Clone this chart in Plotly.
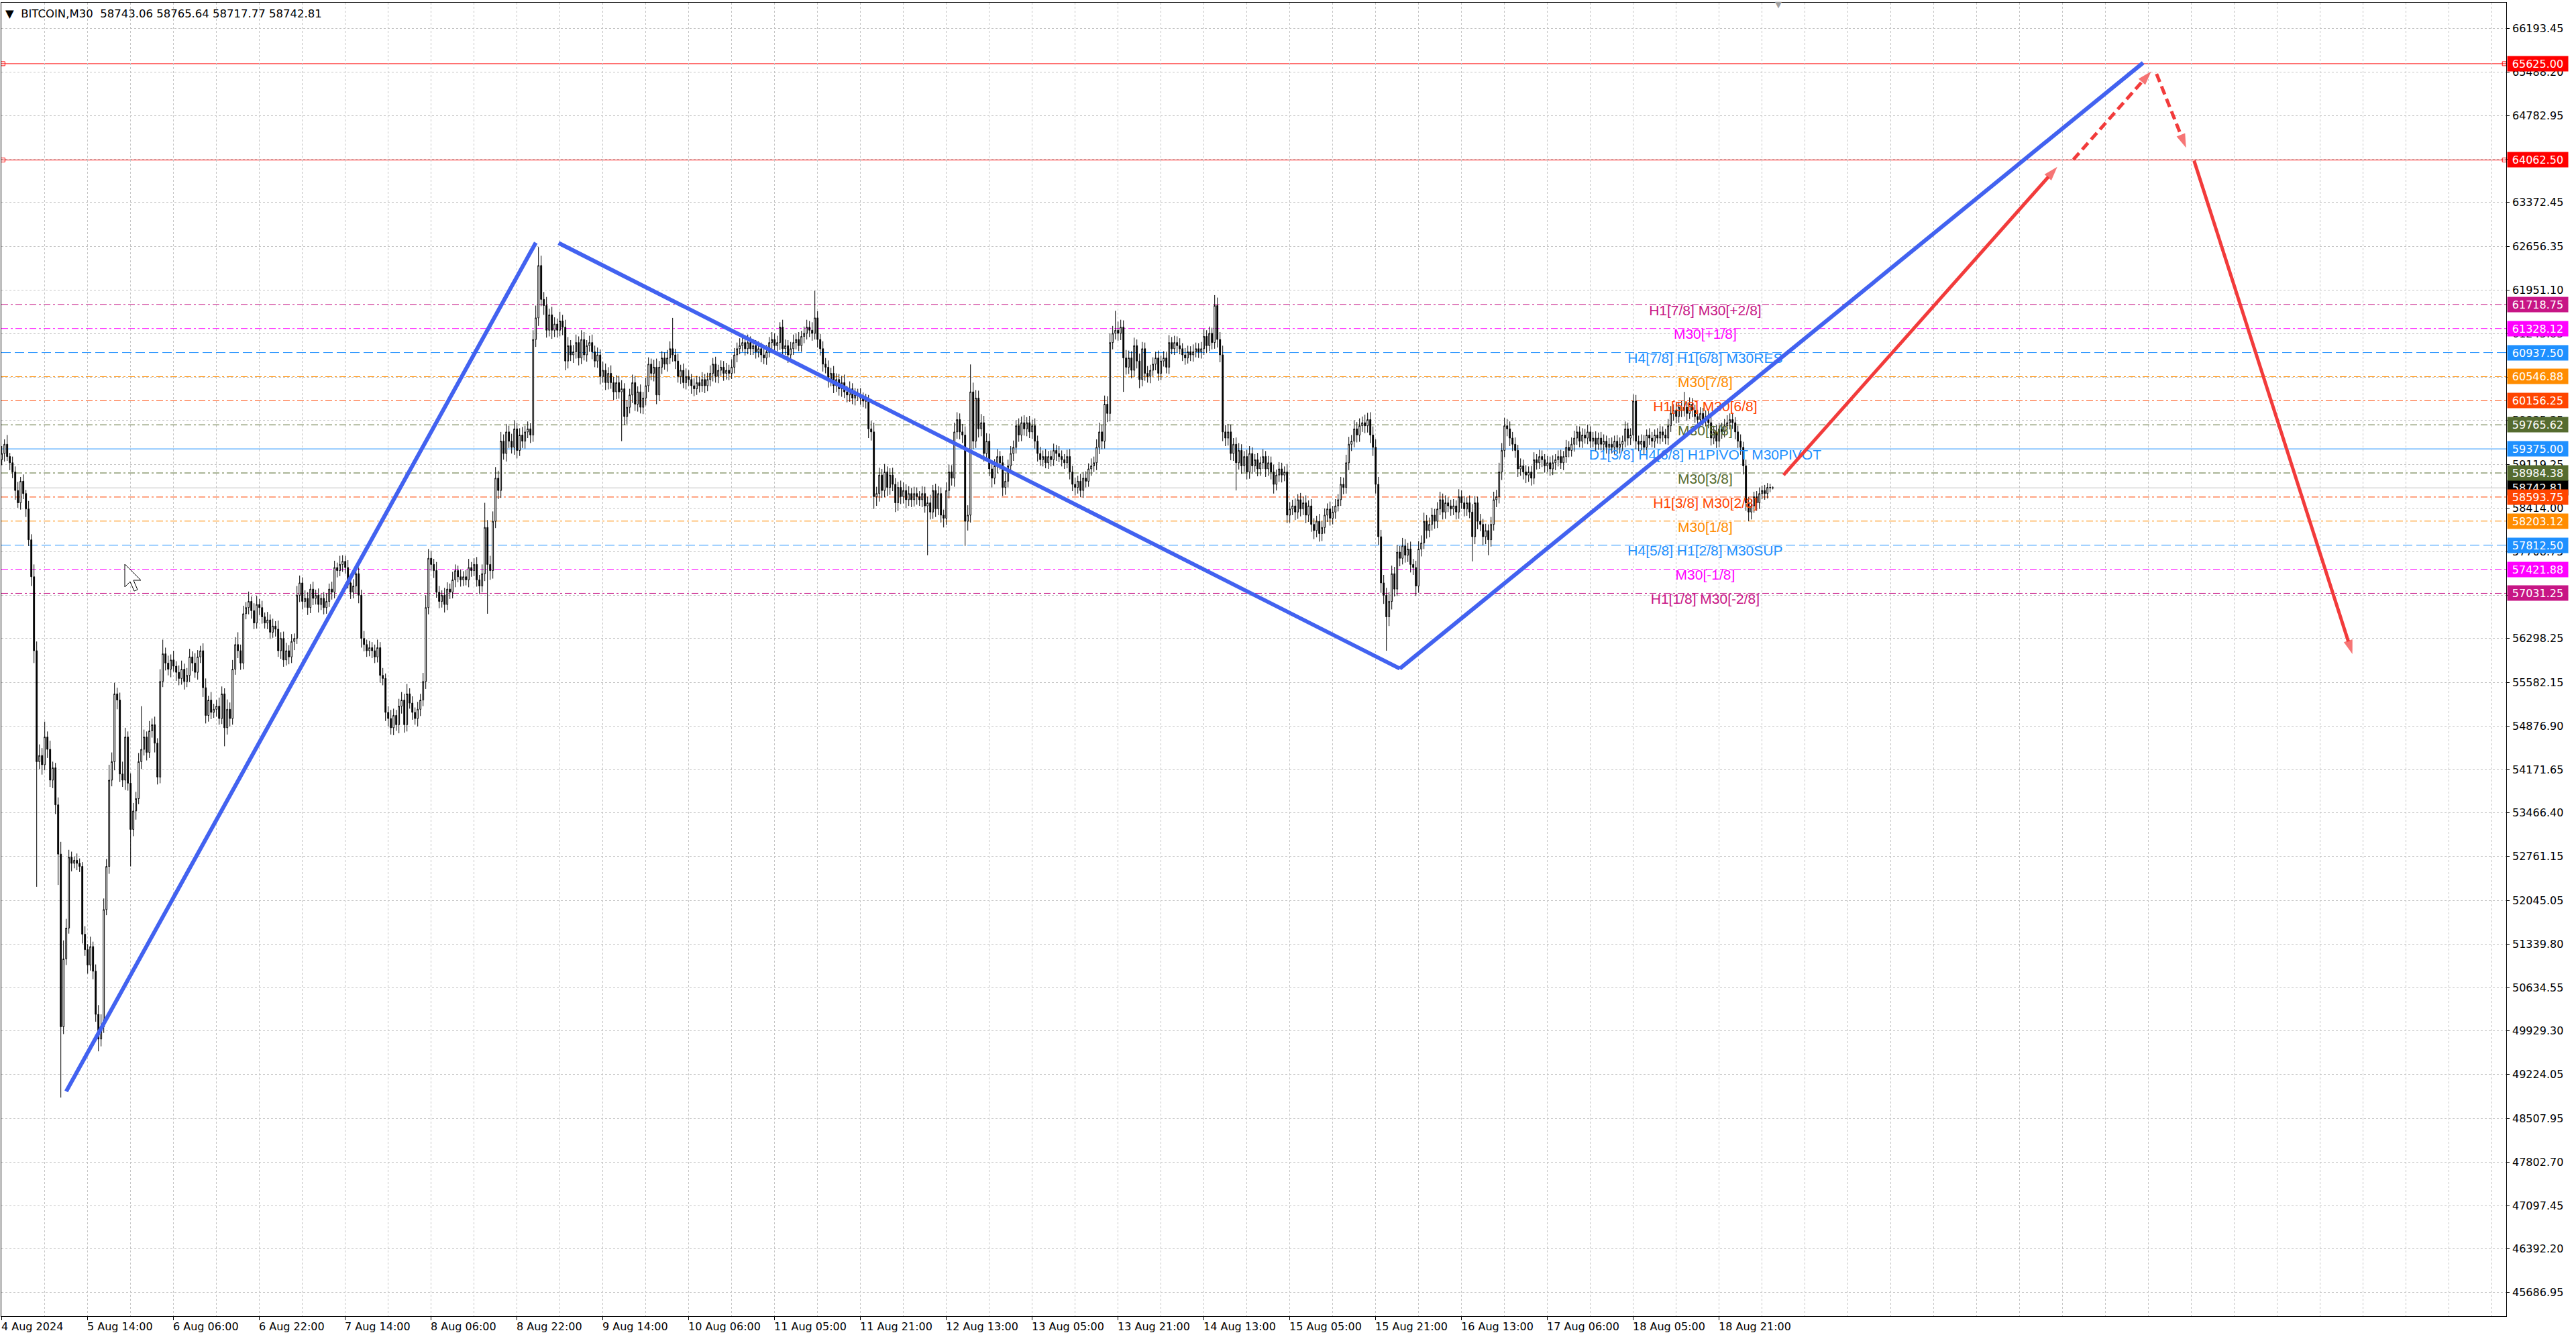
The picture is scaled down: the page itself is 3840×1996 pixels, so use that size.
import plotly.graph_objects as go

# ---------------- data ----------------
first_open = 59200
closes = [
    59300, 59450, 59250, 59150, 59000, 58700, 58500, 58850, 58650, 58400,
    57900, 57300, 56100, 54300, 54400, 54250, 54700, 54500, 54000, 54200,
    53600, 52800, 50000, 51100, 51600, 52750, 52650, 52700, 52650, 52600,
    51500, 51250, 51000, 51300, 50900, 50200, 49800, 50000, 51900, 52600,
    54000, 54300, 55400, 55300, 54100, 54000, 54700, 53950, 53200, 53500,
    53700, 54300, 54500, 54700, 54450, 54800, 54900, 54600, 54050, 55600,
    56050, 55900, 55800, 55950, 55850, 55750, 55650, 55800, 55600, 55700,
    56000, 55900, 55750, 56000, 56100, 55500, 55050, 55300, 55100, 55150,
    55200, 55000, 55400, 54850, 55150, 55000, 55800, 56200, 56100, 55900,
    56700, 56800, 56900, 56750, 56550, 56850, 56800, 56650, 56550, 56600,
    56400, 56500, 56450, 56100, 56300, 55950, 56100, 56000, 56250, 56300,
    57000, 57200, 56900, 56950, 56800, 57100, 56950, 57000, 56850, 56950,
    56800, 56900, 57100, 57050, 57450, 57400, 57500, 57550, 57450, 57200,
    57050, 57150, 57350, 57000, 56300, 56200, 56100, 56150, 56100, 56000,
    56150, 55700, 55650, 55100, 55000, 54850, 55050, 54900, 55200, 55300,
    54900, 55400, 55250, 55100, 55000, 55150, 55300, 55600, 56800, 57600,
    57500, 57400, 57050, 56900, 57000, 56850, 57100, 57050, 57250, 57400,
    57300, 57250, 57300, 57250, 57450, 57400, 57500, 57250, 57150, 57350,
    58100, 57500, 57400, 58200, 58900, 58700, 59500, 59300, 59650, 59500,
    59400, 59700, 59350, 59600, 59500, 59650, 59700, 59600, 61150, 61500,
    62350, 61800, 61700, 61300, 61550, 61300, 61400, 61300, 61450, 61350,
    60800, 61050, 60900, 60950, 61100, 60850, 61150, 60900, 61050, 61100,
    60950, 60800, 60900, 60550, 60650, 60450, 60600, 60450, 60300, 60450,
    60300, 60350, 59900, 60050, 60250, 60450, 60100, 60300, 60050, 60200,
    60400, 60750, 60600, 60700, 60250, 60700, 60850, 60750, 60850, 61000,
    60900, 60800, 60550, 60650, 60450, 60550, 60500, 60400, 60350, 60450,
    60400, 60500, 60400, 60500, 60600, 60750, 60550, 60650, 60700, 60600,
    60650, 60600, 60700, 60900, 61000, 61050, 61100, 61000, 61100, 61000,
    61050, 60950, 61000, 60900, 60850, 60950, 61100, 61150, 61050, 61100,
    61350, 61000, 61050, 60900, 61000, 61100, 61150, 61050, 61200, 61250,
    61350, 61300, 61250, 61500, 61150, 61000, 60750, 60700, 60500, 60600,
    60400, 60500, 60350, 60450, 60300, 60250, 60350, 60200, 60250, 60250,
    60200, 60150, 60150, 59700, 59650, 58600, 58650, 58950, 58700, 59000,
    58750, 58950, 58800, 58500, 58750, 58600, 58700, 58550, 58650, 58550,
    58650, 58600, 58550, 58650, 58450, 58500, 58350, 58700, 58400, 58650,
    58300, 58250, 58700, 59000, 58900, 59650, 59850, 59650, 59600, 58200,
    58300, 60300, 59500, 60200, 59700, 59800, 59300, 59500, 59050, 58900,
    59100, 59250, 59150, 58750, 58850, 59100, 59300, 59400, 59750, 59600,
    59800, 59700, 59800, 59650, 59750, 59500, 59300, 59200, 59250, 59150,
    59250, 59200, 59350, 59300, 59250, 59200, 59150, 59250, 59000, 58800,
    58750, 58850, 58700, 58900, 58850, 59050, 59100, 59150, 59400, 59650,
    59500, 60100, 59950, 61100, 61250, 61300, 61250, 61350, 60850, 60700,
    60850, 60650, 61050, 60800, 60500, 61000, 60600, 60550, 60650, 60750,
    60850, 60600, 60800, 60850, 60700, 61100, 61000, 61100, 61050, 61000,
    60900, 60850, 60950, 60900, 60950, 61000, 60950, 61000, 61200, 61050,
    61250, 61100, 61700, 61150, 60900, 59650, 59550, 59650, 59300, 59450,
    59150, 59350, 59100, 59250, 59000, 59300, 59100, 59200, 59050, 59150,
    59250, 59050, 59150, 59000, 58800, 58950, 59050, 58950, 59000, 58300,
    58400, 58450, 58350, 58550, 58400, 58500, 58300, 58450, 58150, 58050,
    58200, 58000, 58100, 58300, 58400, 58250, 58350, 58450, 58550, 58800,
    58750, 59150, 59450, 59500, 59700, 59600, 59750, 59800, 59750, 59850,
    59600, 59400, 58800, 57950, 57200, 57000, 56650, 56900, 57350, 57100,
    57700, 57600, 57800, 57650, 57750, 57500, 57450, 57150, 57750, 57850,
    58200, 58050, 58150, 58300, 58200, 58400, 58550, 58350, 58500, 58450,
    58400, 58450, 58350, 58600, 58500, 58400, 58500, 58350, 57950, 58500,
    58200, 58150, 57950, 58050, 57900, 58150, 58550, 58600, 59000, 59350,
    59750, 59700, 59550, 59450, 59350, 59050, 59100, 59000, 58950, 59000,
    58900, 59200, 59150, 59250, 59200, 59100, 59150, 59050, 59150, 59200,
    59250, 59150, 59250, 59400, 59350, 59450, 59550, 59650, 59500, 59600,
    59550, 59650, 59500, 59550, 59450, 59550, 59450, 59500, 59400, 59450,
    59400, 59500, 59400, 59450, 59500, 59700, 59550, 59600, 60150, 59500,
    59450, 59500, 59400, 59600, 59550, 59500, 59600, 59550, 59650, 59600,
    59550, 59750, 59950, 60000, 59900, 60050, 60000, 60050, 59950, 60100,
    60000, 59900, 59850, 59950, 59850, 59900, 59800, 59550, 59650, 59500,
    59700, 59650, 59750, 59800, 59850, 59800, 59650, 59500, 59400, 59100,
    58500, 58350, 58450, 58600, 58500, 58650, 58700, 58650, 58750, 58743.06,
    58742.81,
]
wick_up = [
    120, 80, 150, 60, 100, 90, 140, 70, 110, 60, 130, 90, 200, 150, 180, 120, 250, 90, 140, 100,
    80, 120, 200, 300, 150, 120, 90, 60, 110, 80, 70, 130, 90, 160, 80, 110, 150, 200, 180, 120,
    250, 150, 180, 100, 120, 200, 150, 90, 160, 130, 110, 140, 700, 120, 90, 160, 100, 130, 80, 200,
    230, 100, 120, 90, 150, 80, 110, 140, 90, 120, 130, 90, 160, 110, 80, 120, 150, 70, 130, 90,
    100, 140, 120, 90, 160, 110, 150, 120, 200, 100, 130, 90, 160, 80, 120, 140, 90, 110, 70, 130,
    90, 120, 80, 140, 100, 110, 130, 90, 120, 80, 150, 120, 90, 130, 100, 80, 120, 90, 110, 70,
    100, 130, 90, 120, 110, 80, 140, 100, 90, 120, 80, 110, 130, 100, 90, 120, 80, 110, 90, 100,
    130, 90, 120, 80, 100, 140, 110, 90, 120, 130, 100, 160, 90, 110, 80, 120, 100, 140, 200, 150,
    120, 90, 140, 100, 80, 120, 110, 90, 130, 100, 80, 120, 90, 110, 140, 90, 100, 120, 80, 150,
    400, 120, 140, 160, 180, 120, 150, 110, 130, 100, 120, 140, 90, 110, 130, 100, 120, 90, 150, 200,
    300, 160, 120, 140, 100, 130, 110, 90, 150, 100, 120, 140, 90, 110, 130, 100, 150, 120, 90, 110,
    130, 100, 120, 90, 140, 110, 100, 130, 90, 120, 110, 140, 90, 120, 100, 130, 110, 90, 120, 100,
    130, 110, 90, 120, 140, 100, 110, 90, 130, 120, 500, 100, 120, 90, 110, 130, 100, 90, 120, 110,
    100, 120, 90, 110, 130, 100, 120, 90, 110, 100, 120, 90, 130, 110, 100, 120, 90, 110, 130, 100,
    110, 90, 120, 100, 130, 110, 90, 120, 100, 110, 80, 120, 100, 90, 110, 130, 100, 120, 90, 110,
    120, 100, 130, 440, 110, 90, 120, 100, 110, 90, 120, 100, 90, 110, 130, 100, 120, 90, 110, 100,
    110, 90, 120, 100, 130, 150, 110, 120, 100, 130, 90, 110, 120, 100, 90, 110, 130, 100, 120, 90,
    110, 100, 90, 120, 110, 100, 130, 90, 110, 120, 100, 90, 130, 120, 110, 150, 120, 100, 130, 140,
    160, 445, 150, 130, 120, 140, 110, 130, 120, 100, 110, 120, 90, 110, 130, 100, 120, 110, 90, 120,
    100, 120, 90, 110, 100, 120, 90, 110, 100, 120, 90, 100, 110, 90, 120, 100, 90, 110, 120, 100,
    110, 90, 120, 100, 110, 90, 120, 100, 130, 150, 120, 140, 130, 150, 120, 315, 140, 120, 110, 130,
    120, 110, 130, 100, 120, 110, 100, 120, 90, 110, 100, 120, 90, 110, 100, 120, 90, 110, 100, 120,
    90, 110, 100, 90, 120, 100, 90, 110, 120, 100, 110, 90, 170, 130, 120, 150, 110, 130, 120, 100,
    110, 120, 100, 90, 110, 120, 100, 90, 110, 100, 120, 90, 110, 100, 120, 90, 110, 100, 90, 130,
    110, 100, 120, 90, 110, 100, 120, 90, 110, 100, 90, 120, 100, 110, 90, 120, 100, 110, 90, 120,
    110, 130, 120, 100, 140, 110, 120, 100, 130, 110, 120, 140, 130, 120, 110, 130, 120, 150, 130, 110,
    120, 100, 130, 110, 100, 120, 90, 110, 130, 120, 140, 100, 110, 120, 100, 110, 130, 100, 120, 90,
    100, 110, 90, 120, 100, 110, 90, 120, 130, 110, 100, 120, 90, 110, 100, 120, 130, 110, 150, 120,
    130, 110, 120, 100, 110, 90, 120, 100, 110, 90, 100, 120, 90, 110, 100, 90, 110, 100, 120, 90,
    100, 110, 90, 120, 100, 110, 120, 100, 90, 110, 100, 120, 90, 100, 110, 90, 100, 110, 90, 100,
    110, 90, 100, 110, 90, 120, 100, 110, 110, 100, 90, 110, 100, 90, 110, 100, 90, 110, 100, 90,
    100, 110, 120, 100, 110, 90, 100, 250, 90, 110, 100, 90, 110, 100, 90, 100, 110, 90, 100, 110,
    90, 100, 110, 120, 100, 110, 90, 100, 110, 90, 100, 90, 110, 80, 90, 100, 80, 90, 70, 60,
    22.58,
]
wick_dn = [
    90, 130, 70, 120, 100, 150, 80, 110, 90, 130, 100, 150, 200, 2030, 120, 160, 90, 140, 110, 130,
    150, 500, 1150, 120, 100, 90, 130, 80, 110, 90, 150, 100, 140, 90, 130, 120, 200, 120, 100, 90,
    120, 100, 140, 150, 130, 110, 160, 120, 600, 110, 140, 90, 120, 100, 130, 90, 110, 150, 120, 100,
    90, 120, 100, 130, 90, 140, 110, 100, 130, 90, 110, 130, 90, 120, 100, 150, 130, 100, 110, 90,
    120, 100, 90, 300, 110, 130, 100, 90, 120, 110, 100, 90, 110, 130, 100, 90, 120, 110, 90, 100,
    110, 90, 120, 100, 130, 110, 90, 120, 100, 140, 90, 110, 130, 100, 120, 90, 110, 100, 130, 90,
    110, 100, 90, 120, 100, 110, 90, 120, 100, 90, 110, 100, 120, 130, 150, 110, 100, 90, 120, 100,
    90, 120, 110, 140, 130, 110, 120, 100, 140, 120, 130, 110, 90, 120, 100, 130, 110, 100, 120, 110,
    100, 120, 90, 110, 100, 130, 90, 110, 100, 120, 90, 110, 100, 90, 120, 100, 90, 110, 130, 100,
    120, 800, 150, 130, 110, 140, 120, 100, 130, 110, 100, 120, 130, 90, 110, 120, 100, 130, 110, 120,
    130, 110, 150, 120, 100, 140, 110, 120, 100, 130, 150, 120, 100, 130, 110, 120, 100, 90, 110, 100,
    120, 100, 110, 130, 100, 120, 110, 100, 130, 120, 110, 800, 140, 120, 100, 130, 110, 120, 100, 110,
    120, 100, 110, 130, 150, 100, 110, 90, 120, 100, 110, 130, 100, 120, 90, 110, 100, 130, 120, 100,
    110, 100, 120, 90, 110, 130, 100, 110, 90, 120, 100, 110, 90, 100, 120, 90, 100, 110, 90, 100,
    100, 110, 90, 120, 100, 110, 90, 100, 110, 90, 120, 110, 100, 130, 90, 100, 110, 90, 100, 110,
    100, 110, 120, 100, 130, 110, 120, 100, 130, 110, 120, 100, 110, 130, 100, 120, 110, 100, 120, 100,
    110, 100, 120, 150, 140, 200, 150, 130, 120, 110, 140, 120, 110, 150, 130, 120, 110, 140, 100, 120,
    110, 130, 100, 120, 110, 800, 120, 110, 130, 100, 120, 150, 110, 130, 120, 140, 110, 120, 130, 400,
    150, 120, 130, 110, 140, 120, 130, 110, 120, 150, 100, 120, 110, 140, 120, 100, 110, 120, 100, 110,
    100, 110, 120, 100, 110, 120, 130, 100, 110, 90, 100, 110, 100, 120, 90, 110, 100, 90, 120, 110,
    130, 100, 110, 120, 100, 90, 110, 100, 120, 110, 130, 120, 140, 130, 110, 100, 120, 110, 550, 120,
    110, 130, 100, 120, 140, 110, 120, 100, 110, 90, 100, 120, 110, 90, 100, 110, 90, 100, 110, 90,
    100, 110, 90, 100, 110, 90, 100, 110, 100, 120, 90, 110, 100, 130, 120, 150, 130, 120, 110, 120,
    450, 110, 130, 100, 120, 110, 130, 100, 120, 110, 100, 130, 110, 120, 150, 100, 110, 120, 100, 130,
    120, 100, 130, 110, 120, 100, 130, 110, 120, 140, 110, 130, 120, 100, 110, 120, 100, 110, 90, 100,
    110, 100, 120, 110, 100, 120, 110, 100, 120, 110, 130, 140, 150, 130, 160, 140, 550, 150, 130, 120,
    110, 130, 100, 120, 110, 130, 120, 160, 110, 120, 100, 130, 110, 100, 120, 110, 100, 120, 110, 100,
    110, 100, 120, 110, 100, 120, 110, 100, 400, 120, 130, 110, 140, 120, 250, 110, 100, 120, 110, 130,
    110, 120, 130, 110, 120, 130, 110, 120, 130, 110, 120, 100, 110, 100, 120, 110, 100, 110, 100, 120,
    110, 100, 120, 100, 110, 100, 120, 110, 100, 110, 90, 100, 110, 100, 120, 90, 100, 110, 100, 110,
    100, 110, 90, 100, 110, 100, 120, 110, 100, 130, 110, 100, 120, 90, 110, 100, 110, 90, 100, 110,
    100, 110, 100, 120, 110, 100, 110, 100, 120, 90, 110, 100, 120, 110, 100, 110, 90, 120, 100, 110,
    100, 110, 90, 100, 110, 100, 120, 110, 120, 140, 130, 150, 120, 110, 130, 100, 90, 100, 80, 70,
    25.04,
]
assert len(closes) == len(wick_up) == len(wick_dn), (len(closes), len(wick_up), len(wick_dn))

symbol_name = "BITCOIN,M30"

x_labels = ["4 Aug 2024", "5 Aug 14:00", "6 Aug 06:00", "6 Aug 22:00", "7 Aug 14:00",
            "8 Aug 06:00", "8 Aug 22:00", "9 Aug 14:00", "10 Aug 06:00", "11 Aug 05:00",
            "11 Aug 21:00", "12 Aug 13:00", "13 Aug 05:00", "13 Aug 21:00", "14 Aug 13:00",
            "15 Aug 05:00", "15 Aug 21:00", "16 Aug 13:00", "17 Aug 06:00", "18 Aug 05:00",
            "18 Aug 21:00"]
bars_per_label = 32

y_ticks = [66193.45, 65488.20, 64782.95, 64077.70, 63372.45, 62656.35, 61951.10, 61245.85,
           60540.60, 59835.35, 59119.25, 58414.00, 57708.75, 57003.50, 56298.25, 55582.15,
           54876.90, 54171.65, 53466.40, 52761.15, 52045.05, 51339.80, 50634.55, 49929.30,
           49224.05, 48507.95, 47802.70, 47097.45, 46392.20, 45686.95]

level_prices = [61718.75, 61328.12, 60937.50, 60546.88, 60156.25, 59765.62, 59375.00,
                58984.38, 58593.75, 58203.12, 57812.50, 57421.88, 57031.25]
level_names = ["H1[7/8] M30[+2/8]", "M30[+1/8]", "H4[7/8] H1[6/8] M30RES", "M30[7/8]",
               "H1[5/8] M30[6/8]", "M30[5/8]", "D1[3/8] H4[6/8] H1PIVOT M30PIVOT", "M30[3/8]",
               "H1[3/8] M30[2/8]", "M30[1/8]", "H4[5/8] H1[2/8] M30SUP", "M30[-1/8]",
               "H1[1/8] M30[-2/8]"]
level_colors = ["#C71585", "#FF00FF", "#1E90FF", "#FF8C00", "#FF4500", "#556B2F", "#1E90FF",
                "#556B2F", "#FF4500", "#FF8C00", "#1E90FF", "#FF00FF", "#C71585"]
level_styles = ["dashdot", "dashdot", "dash", "dashdot", "dashdot", "dashdot", "solid",
                "dashdot", "dashdot", "dashdot", "dash", "dashdot", "dashdot"]
level_text_bar = 634.8

target_prices = [65625.00, 64062.50]

trend_up1_x, trend_up1_y = [24, 199], [48950, 62720]
trend_down_x, trend_down_y = [207.5, 521], [62715, 55810]
trend_up2_x, trend_up2_y = [521, 798], [55810, 65640]

fc_up_x, fc_up_y = [664, 766], [58950, 63950]
fc_dash1_x, fc_dash1_y = [772, 801], [64070, 65500]
fc_dash2_x, fc_dash2_y = [803, 814], [65460, 64260]
fc_down_x, fc_down_y = [817, 876], [64050, 56045]

# ---------------- derived OHLC ----------------
n = len(closes)
bars = list(range(n))
opens = [first_open] + closes[:-1]
highs = [max(o, c) + u for o, c, u in zip(opens, closes, wick_up)]
lows = [min(o, c) - d for o, c, d in zip(opens, closes, wick_dn)]
last_price = closes[-1]

# ---------------- layout geometry ----------------
W, H = 3840, 1996
ML, MR, MT, MB = 2, 104, 4, 34
plot_w = W - ML - MR
plot_h = H - MT - MB
px_per_bar = 4
x0 = -0.175
x1 = x0 + plot_w / px_per_bar
y_range = [45302.7, 66614.7]

FONT = "DejaVu Sans, Verdana, sans-serif"
LFONT = "Liberation Sans, Arial, sans-serif"
RED = "#F23B3B"
BLUE = "#4262F0"
DASH = {"dashdot": "10px,4px,3px,4px", "dash": "14px,6px", "solid": "solid"}

fig = go.Figure()

fig.add_trace(go.Candlestick(
    x=bars, open=opens, high=highs, low=lows, close=closes,
    increasing=dict(line=dict(color="black", width=1), fillcolor="white"),
    decreasing=dict(line=dict(color="black", width=1), fillcolor="black"),
    whiskerwidth=0, hoverinfo="skip", showlegend=False,
))

# level names (drawn before trend lines so lines cross over them)
fig.add_trace(go.Scatter(
    x=[level_text_bar] * len(level_prices), y=level_prices, mode="text",
    text=level_names, textposition="bottom center",
    textfont=dict(family=LFONT, size=21, color=level_colors),
    hoverinfo="skip", showlegend=False,
))

for xs, ys in [(trend_up1_x, trend_up1_y), (trend_down_x, trend_down_y), (trend_up2_x, trend_up2_y)]:
    fig.add_trace(go.Scatter(x=xs, y=ys, mode="lines", line=dict(color=BLUE, width=6),
                             hoverinfo="skip", showlegend=False))

for (xs, ys), dash in [((fc_up_x, fc_up_y), "solid"), ((fc_dash1_x, fc_dash1_y), "13px,7px"),
                       ((fc_dash2_x, fc_dash2_y), "13px,7px"), ((fc_down_x, fc_down_y), "solid")]:
    fig.add_trace(go.Scatter(
        x=xs, y=ys, mode="lines+markers",
        line=dict(color=RED, width=5, dash=dash),
        marker=dict(symbol=["circle", "arrow"], size=[0, 22], color=RED, angleref="previous",
                    line=dict(width=0)),
        hoverinfo="skip", showlegend=False,
    ))

# target lines end markers
for p in target_prices:
    fig.add_trace(go.Scatter(x=[x0 + 0.6, x1 - 0.7], y=[p, p], mode="markers",
                             marker=dict(symbol="square-open", size=6, color="red", line=dict(width=1)),
                             hoverinfo="skip", showlegend=False))

shapes = []
for p in target_prices:
    shapes.append(dict(type="line", xref="paper", x0=0, x1=1, yref="y", y0=p, y1=p,
                       line=dict(color="red", width=1), layer="between"))
for p, c, s in zip(level_prices, level_colors, level_styles):
    shapes.append(dict(type="line", xref="paper", x0=0, x1=1, yref="y", y0=p, y1=p,
                       line=dict(color=c, width=1, dash=DASH[s]), layer="between"))
shapes.append(dict(type="line", xref="paper", x0=0, x1=1, yref="y", y0=last_price, y1=last_price,
                   line=dict(color="#C0C0C0", width=1), layer="between"))

# mouse cursor left on the chart (pixel outline relative to its tip)
cursor_tip = (186, 841)
cursor_pts = [(0, 0), (0, 34), (8, 26), (14, 40), (19, 38), (13, 24), (24, 24)]
path = "M " + " L ".join(
    f"{(cursor_tip[0] + dx - ML) / plot_w:.5f},{1 - (cursor_tip[1] + dy - MT) / plot_h:.5f}"
    for dx, dy in cursor_pts) + " Z"
shapes.append(dict(type="path", xref="paper", yref="paper", path=path,
                   fillcolor="white", line=dict(color="black", width=1), layer="above"))

ann = []
# y tick labels
for t in y_ticks:
    ann.append(dict(x=1, xref="paper", y=t, yref="y", xanchor="left", yanchor="middle", xshift=7,
                    text=f"{t:.2f}", showarrow=False, font=dict(family=FONT, size=16, color="black")))
# x tick labels
for i, lab in enumerate(x_labels):
    ann.append(dict(x=i * bars_per_label, xref="x", y=0, yref="paper", xanchor="left", yanchor="middle",
                    xshift=-3, yshift=-15, text=lab, showarrow=False,
                    font=dict(family=FONT, size=16, color="black")))


def price_tag(p, bg):
    return dict(x=1, xref="paper", y=p, yref="y", xanchor="left", yanchor="middle", xshift=1,
                text=f"{p:.2f}", showarrow=False, bgcolor=bg, width=88, height=20, borderpad=1,
                align="center", font=dict(family=FONT, size=16, color="white"))


ann.append(price_tag(last_price, "black"))
for p in target_prices:
    ann.append(price_tag(p, "#FF0000"))
for p, c in zip(level_prices, level_colors):
    ann.append(price_tag(p, c))

# header
header = "\u25bc\u00a0\u00a0" + symbol_name + "\u00a0\u00a0" + " ".join(
    f"{v:.2f}" for v in (opens[-1], highs[-1], lows[-1], closes[-1]))
ann.append(dict(x=0, xref="paper", y=1, yref="paper", xanchor="left", yanchor="middle", xshift=4,
                yshift=-16, text=header, showarrow=False, font=dict(family=FONT, size=16.5, color="black")))
# chart shift marker
ann.append(dict(x=n + 1, xref="x", y=1, yref="paper", xanchor="center", yanchor="middle", yshift=-2,
                text="\u25bc", showarrow=False, font=dict(family=FONT, size=13, color="#A0A0A0")))

grid = dict(showgrid=True, gridcolor="#C4C4C4", gridwidth=1, griddash="3px,3px")
major_x = [i * bars_per_label for i in range(len(x_labels))]
all_x = list(range(0, int(x1) + 1, 16))
minor_x = [v for v in all_x if v not in major_x]

fig.update_layout(
    width=W, height=H, autosize=False,
    margin=dict(l=ML, r=MR, t=MT, b=MB, pad=0),
    paper_bgcolor="white", plot_bgcolor="white",
    showlegend=False, hovermode=False, boxgap=0.35,
    shapes=shapes, annotations=ann,
    xaxis=dict(range=[x0, x1], tickmode="array", tickvals=major_x, showticklabels=False,
               ticks="outside", ticklen=5, tickcolor="black", tickwidth=1,
               showline=True, linecolor="black", linewidth=1, mirror=True, zeroline=False,
               rangeslider=dict(visible=False), fixedrange=True,
               minor=dict(tickvals=minor_x, ticks="", showgrid=True, gridcolor="#C4C4C4",
                          griddash="3px,3px", gridwidth=1),
               **grid),
    yaxis=dict(range=y_range, side="right", tickmode="array", tickvals=y_ticks, showticklabels=False,
               ticks="outside", ticklen=4, tickcolor="black", tickwidth=1,
               showline=True, linecolor="black", linewidth=1, mirror=True, zeroline=False,
               fixedrange=True, **grid),
)

fig.write_html("out.html", config={"displayModeBar": False, "staticPlot": True},
               post_script="document.body.style.margin='0px';document.body.style.overflow='hidden';")
